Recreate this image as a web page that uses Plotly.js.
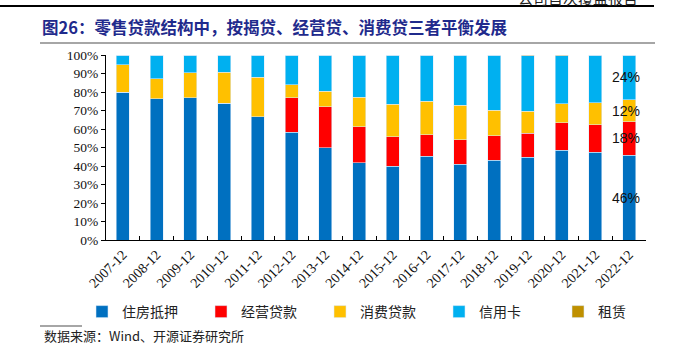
<!DOCTYPE html>
<html>
<head>
<meta charset="utf-8">
<script src="https://cdn.plot.ly/plotly-3.0.1.min.js"></script>
<style>html,body{margin:0;padding:0;background:#fff;}#chart{width:677px;height:345px;}</style>
</head>
<body>
<div id="chart"></div>
<script>
const categories = ["2007-12","2008-12","2009-12","2010-12","2011-12","2012-12","2013-12","2014-12","2015-12","2016-12","2017-12","2018-12","2019-12","2020-12","2021-12","2022-12"];
const mortgage    = [80.0,76.4,76.9,73.9,66.7,58.2,49.9,41.8,40.0,45.2,40.9,43.1,44.7,48.5,47.4,45.9];
const business    = [0,0,0,0,0,18.7,22.0,19.5,15.9,11.7,13.3,13.3,13.1,14.9,14.9,18.1];
const consumer    = [14.6,10.8,13.6,16.9,21.4,6.9,8.5,15.8,17.6,18.2,18.6,13.7,11.9,10.3,11.9,11.7];
const creditCard  = [5.4,12.8,9.5,9.2,11.9,16.2,19.6,22.9,26.5,24.9,27.2,29.9,29.8,25.8,25.8,24.3];
const leasing     = [0,0,0,0,0,0,0,0,0,0,0,0,0.5,0.5,0,0];
const seriesNames = ["住房抵押","经营贷款","消费贷款","信用卡","租赁"];
const seriesColors = ["#0070C0","#FF0000","#FFC000","#00B0F0","#BF9000"];
const seriesData = [mortgage,business,consumer,creditCard,leasing];

const W = 677, H = 345;
const L = 106, R = 646, T = 55, B = 240;
const px = x => (x - L) / (R - L);
const py = y => (B - y) / (B - T);

const traces = seriesData.map((d, i) => ({
  type: "bar",
  name: seriesNames[i],
  x: categories,
  y: d,
  marker: {color: seriesColors[i], line: {color: "rgba(220,235,250,0.9)", width: 0.6}},
  hoverinfo: "skip"
}));

// labels for the last bar, centered in each segment
const last = categories.length - 1;
const segs = [mortgage[last], business[last], consumer[last], creditCard[last]];
const annotations = [];
let cum = 0;
segs.forEach(v => {
  annotations.push({
    x: categories[last], y: cum + v / 2, xref: "x", yref: "y",
    text: Math.round(v) + "%", showarrow: false, xshift: -3,
    font: {family: "Liberation Sans, Arial, sans-serif", size: 14, color: "#111"}
  });
  cum += v;
});

annotations.push({
  xref: "paper", yref: "paper", x: px(42), y: py(335), xanchor: "left", yanchor: "middle",
  text: "数据来源：Wind、开源证券研究所", showarrow: false,
  font: {family: "Noto Sans CJK SC, sans-serif", size: 13, color: "#222"}
});
annotations.push({
  xref: "paper", yref: "paper", x: px(578), y: py(-3), xanchor: "center", yanchor: "middle",
  text: "公司首次覆盖报告", showarrow: false,
  font: {family: "Noto Sans CJK SC, sans-serif", size: 15, color: "#222"}
});

const shapes = [
  {type: "line", xref: "paper", yref: "paper", x0: px(0), x1: px(654), y0: py(6), y1: py(6), line: {color: "#000", width: 2}},
  {type: "line", xref: "paper", yref: "paper", x0: px(40), x1: px(655), y0: py(43), y1: py(43), line: {color: "#888", width: 1.5}},
  {type: "line", xref: "paper", yref: "paper", x0: px(40), x1: px(655), y0: py(326), y1: py(326), line: {color: "#888", width: 1.5}}
];

const layout = {
  width: W, height: H,
  margin: {l: L, r: W - R, t: T, b: H - B},
  paper_bgcolor: "#fff", plot_bgcolor: "#fff",
  barmode: "stack",
  bargap: 0.61,
  showlegend: true,
  title: {
    text: "<b>图26：零售贷款结构中，按揭贷、经营贷、消费贷三者平衡发展</b>",
    xref: "container", yref: "container", x: 42 / W, y: 1 - 28 / H, xanchor: "left", yanchor: "middle",
    font: {family: "Noto Sans CJK SC, sans-serif", size: 16.5, color: "#1F2A8C"}
  },
  xaxis: {
    type: "category",
    showline: true, linecolor: "#000", linewidth: 1,
    ticks: "inside", tickson: "boundaries", ticklen: 4, tickcolor: "#000",
    tickangle: -45, showgrid: false, zeroline: false,
    tickfont: {family: "Liberation Serif, Times New Roman, serif", size: 14, color: "#111"}
  },
  yaxis: {
    range: [0, 100], dtick: 10, ticksuffix: "%",
    showline: true, linecolor: "#000", linewidth: 1,
    ticks: "outside", ticklen: 4, tickcolor: "#000",
    showgrid: false, zeroline: false,
    tickfont: {family: "Liberation Serif, Times New Roman, serif", size: 13.5, color: "#111"}
  },
  legend: {
    orientation: "h", x: px(88), y: py(312), xanchor: "left", yanchor: "middle",
    entrywidth: 74, entrywidthmode: "pixels", itemwidth: 30,
    font: {family: "Noto Sans CJK SC, sans-serif", size: 14, color: "#222"},
    traceorder: "normal"
  },
  annotations: annotations,
  shapes: shapes
};

Plotly.newPlot("chart", traces, layout, {displayModeBar: false, staticPlot: true});
</script>
</body>
</html>
